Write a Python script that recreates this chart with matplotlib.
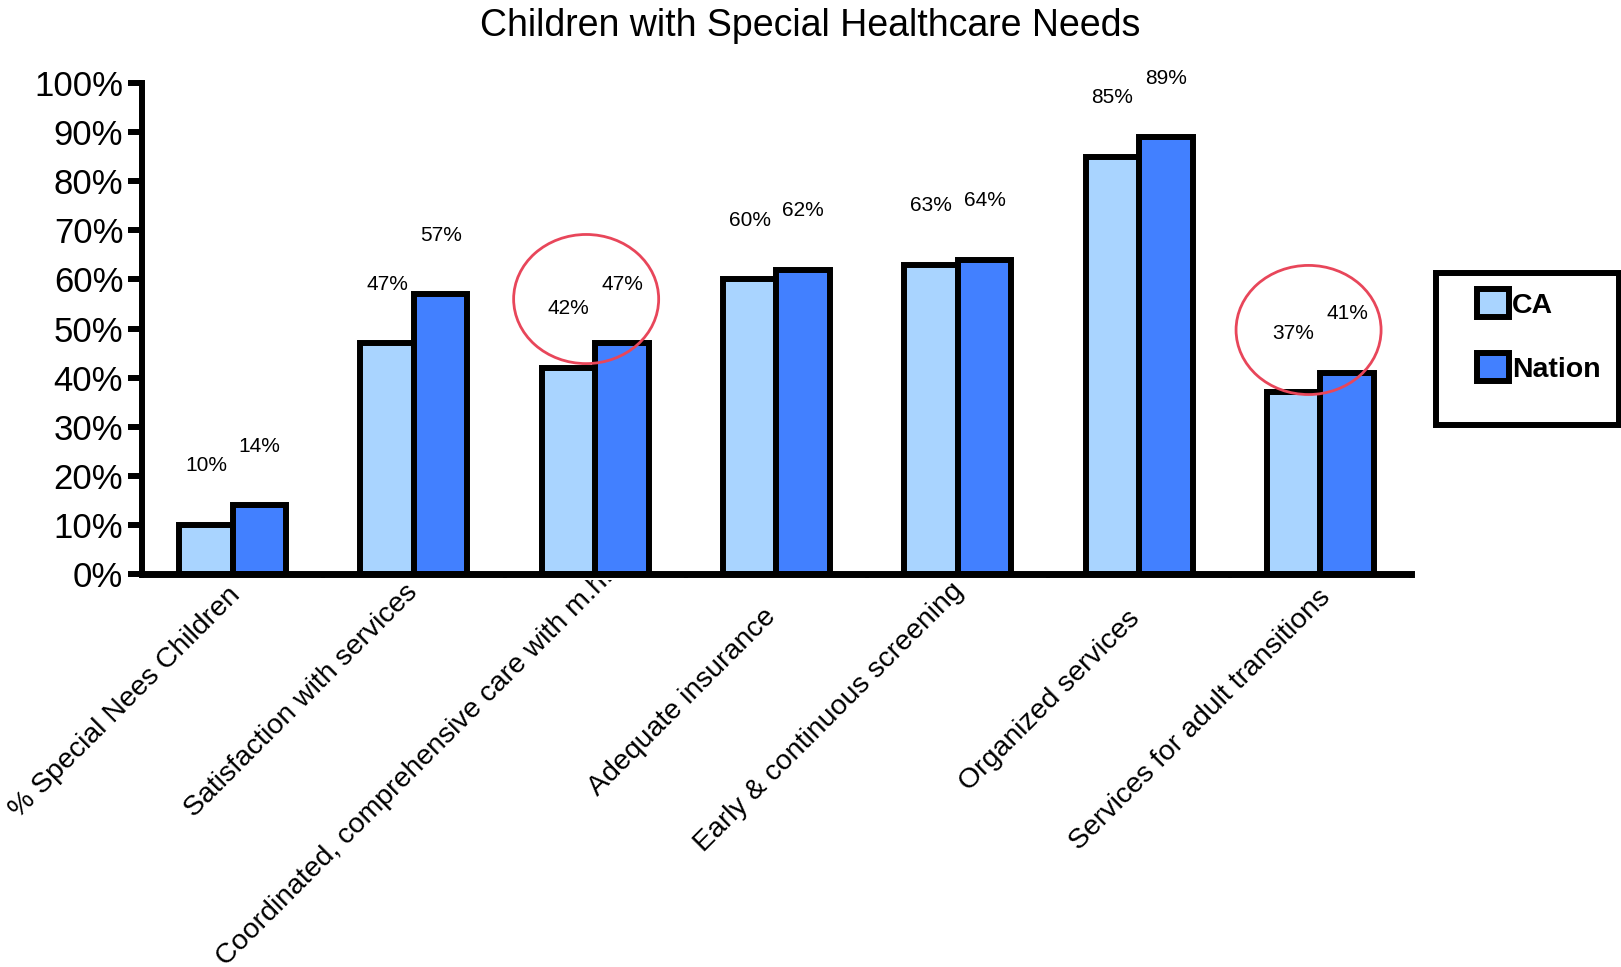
import matplotlib
matplotlib.use("Agg")
import matplotlib.pyplot as plt
import numpy as np
from matplotlib.patches import Ellipse, Rectangle, Patch
from matplotlib.transforms import Bbox, TransformedBbox, ScaledTranslation

# ---------------- data ----------------
title = "Children with Special Healthcare Needs"
categories = [
    "% Special Nees Children",
    "Satisfaction with services",
    "Coordinated, comprehensive care with m.h.",
    "Adequate insurance",
    "Early & continuous screening",
    "Organized services",
    "Services for adult transitions",
]
ca_values = [10, 47, 42, 60, 63, 85, 37]
nation_values = [14, 57, 47, 62, 64, 89, 41]
series_names = ["CA", "Nation"]
y_ticks = [0, 10, 20, 30, 40, 50, 60, 70, 80, 90, 100]
y_tick_labels = [f"{v}%" for v in y_ticks]
circled_categories = [2, 6]

# ---------------- style / layout ----------------
FONT = ["Liberation Sans", "DejaVu Sans"]
plt.rcParams["font.family"] = FONT
CA_COLOR = "#A9D4FF"
NATION_COLOR = "#4280FF"
RED = "#E8465A"
W, H, DPI = 1621, 967, 100
# per-label nudges (pixels, dx right / dy down) of the rotated category labels
label_nudge_px = [(4, 6), (0, 3), (14, -12), (-5, 28), (2, 2), (-3, 30), (6, 9)]

fig = plt.figure(figsize=(W / DPI, H / DPI), dpi=DPI)
ax = fig.add_axes([142 / W, 1 - 574 / H, (1411 - 142) / W, (574 - 83) / H])

x = np.arange(len(categories))
bw = 0.295
ax.bar(x - bw / 2, ca_values, bw, color=CA_COLOR, edgecolor="black",
       linewidth=4.3, joinstyle="miter", label=series_names[0])
ax.bar(x + bw / 2, nation_values, bw, color=NATION_COLOR, edgecolor="black",
       linewidth=4.3, joinstyle="miter", label=series_names[1])

# value labels
for xi, v in zip(x - bw / 2, ca_values):
    ax.text(xi, v + 12, f"{v}%", ha="center", va="center", fontsize=15)
for xi, v in zip(x + bw / 2, nation_values):
    ax.text(xi, v + 12, f"{v}%", ha="center", va="center", fontsize=15)

# circles around highlighted groups (offsets relative to the category)
circle_dx = [-0.05, -0.065]
circle_dy = [11.5, 10.7]
for ci, dx, dy in zip(circled_categories, circle_dx, circle_dy):
    cy = (ca_values[ci] + nation_values[ci]) / 2 + dy
    e = Ellipse((ci + dx, cy), 0.8, 26.3, fill=False, edgecolor=RED,
                linewidth=2, zorder=5)
    ax.add_patch(e)

ax.set_xlim(-0.5, len(categories) - 0.5)
ax.set_ylim(0, 100)
ax.set_yticks(y_ticks)
ax.set_yticklabels(y_tick_labels)
ax.set_xticks(np.arange(len(categories) + 1) - 0.5)
ax.set_xticklabels([])
ax.tick_params(axis="y", length=10, width=4.3, direction="out", pad=3.5,
               labelsize=25)
ax.tick_params(axis="x", length=3, width=3, direction="out")
for s in ("top", "right"):
    ax.spines[s].set_visible(False)
ax.spines["left"].set_linewidth(4.3)
ax.spines["bottom"].set_linewidth(5)

# rotated category labels, clipped just under the axis
clip = TransformedBbox(Bbox.from_extents(0, 0, 1, 1 - 580 / H), fig.transFigure)
for xi, lab, (ndx, ndy) in zip(x, categories, label_nudge_px):
    off = ScaledTranslation(ndx / DPI, -(11 + ndy) / DPI, fig.dpi_scale_trans)
    t = fig.text(xi, 0, lab, transform=ax.get_xaxis_transform() + off,
                 rotation=45, rotation_mode="anchor", ha="right", va="center",
                 fontsize=20.5)
    t.set_clip_on(True)
    t.set_clip_box(clip)

# title
fig.text(0.5, 1 - 26 / H, title, ha="center", va="center", fontsize=27)

# legend
handles = [Patch(facecolor=CA_COLOR, edgecolor="black", linewidth=4.3),
           Patch(facecolor=NATION_COLOR, edgecolor="black", linewidth=4.3)]
fig.legend(handles, series_names, loc="upper left",
           bbox_to_anchor=(1477 / W, 1 - 289 / H), bbox_transform=fig.transFigure,
           frameon=False, prop={"weight": "bold", "size": 20.5, "family": FONT},
           handlelength=1.12, handleheight=1.15, handletextpad=0.1,
           labelspacing=1.2, borderpad=0, borderaxespad=0)
frame = Rectangle((1436 / W, 1 - 425 / H), (1619 - 1436) / W, (425 - 273) / H,
                  transform=fig.transFigure, fill=False, edgecolor="black",
                  linewidth=4.3, joinstyle="miter")
fig.add_artist(frame)

fig.savefig("out.png", dpi=DPI)
